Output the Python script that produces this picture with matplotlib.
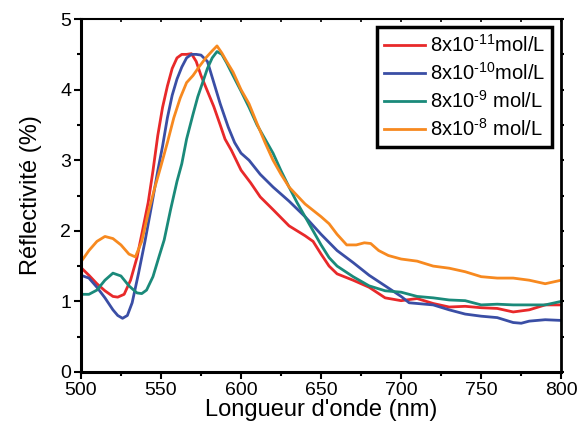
import numpy as np
import matplotlib
matplotlib.use("Agg")
import matplotlib.pyplot as plt
from matplotlib.ticker import MultipleLocator

plt.rcParams['font.family'] = ['Liberation Sans', 'DejaVu Sans']
plt.rcParams['mathtext.default'] = 'regular'

# wavelength grids (nm) and reflectivity (%)
wl_red = [500, 505, 510, 515, 520, 523, 527, 531, 535, 538, 542, 545, 548, 551, 554, 557, 560, 563, 566, 569,
          572, 575, 579, 583, 587, 590, 594, 600, 606, 612, 620, 630, 640, 645, 650, 655, 660, 670, 680,
          690, 700, 710, 720, 730, 740, 750, 760, 770, 780, 790, 800]
r_red = [1.48, 1.37, 1.25, 1.15, 1.07, 1.06, 1.1, 1.3, 1.62, 1.95, 2.4, 2.85, 3.35, 3.75, 4.05, 4.3, 4.45, 4.5, 4.5, 4.51,
         4.4, 4.2, 3.98, 3.76, 3.5, 3.3, 3.14, 2.86, 2.68, 2.48, 2.3, 2.07, 1.93, 1.85, 1.67, 1.5, 1.39, 1.3, 1.2,
         1.05, 1.01, 1.04, 0.97, 0.92, 0.93, 0.91, 0.9, 0.85, 0.88, 0.95, 0.95]

wl_blue = [500, 505, 510, 515, 520, 523, 526, 529, 532, 536, 540, 544, 548, 551, 554, 557, 560, 563, 566, 569,
           572, 575, 579, 583, 587, 592, 596, 600, 605, 612, 620, 630, 640, 650, 660, 670, 680, 690, 700,
           705, 710, 720, 730, 740, 750, 760, 770, 775, 780, 790, 800]
r_blue = [1.37, 1.33, 1.2, 1.05, 0.88, 0.8, 0.76, 0.8, 0.98, 1.4, 1.85, 2.34, 2.85, 3.2, 3.6, 3.92, 4.15, 4.32, 4.45, 4.5,
          4.5, 4.49, 4.4, 4.1, 3.8, 3.47, 3.25, 3.1, 3.0, 2.8, 2.62, 2.42, 2.2, 1.95, 1.72, 1.55, 1.37, 1.22, 1.07,
          0.98, 0.97, 0.95, 0.88, 0.82, 0.79, 0.77, 0.7, 0.69, 0.72, 0.74, 0.73]

wl_teal = [500, 505, 510, 515, 520, 525, 530, 535, 538, 541, 545, 549, 552, 556, 560, 563, 566, 570, 573, 576,
           579, 582, 585, 588, 591, 595, 600, 605, 610, 615, 620, 625, 630, 635, 640, 645, 650, 655, 660,
           670, 680, 690, 700, 710, 720, 730, 740, 750, 760, 770, 780, 790, 800]
r_teal = [1.1, 1.1, 1.16, 1.3, 1.4, 1.36, 1.22, 1.12, 1.11, 1.16, 1.35, 1.65, 1.87, 2.3, 2.7, 2.95, 3.3, 3.65, 3.9, 4.1,
          4.3, 4.45, 4.54, 4.5, 4.38, 4.2, 3.98, 3.75, 3.5, 3.3, 3.1, 2.85, 2.62, 2.4, 2.2, 2.0, 1.8, 1.62, 1.5,
          1.35, 1.22, 1.15, 1.13, 1.07, 1.05, 1.02, 1.01, 0.95, 0.96, 0.95, 0.95, 0.95, 1.0]

wl_orange = [500, 505, 510, 515, 520, 525, 530, 534, 538, 542, 546, 550, 554, 558, 562, 566, 570, 574, 578, 582,
             585, 588, 591, 595, 600, 605, 610, 615, 620, 625, 630, 640, 650, 655, 660, 666, 672, 677, 681,
             686, 692, 700, 710, 720, 730, 740, 750, 760, 770, 780, 790, 800]
r_orange = [1.56, 1.72, 1.85, 1.92, 1.89, 1.8, 1.67, 1.63, 1.85, 2.25, 2.6, 2.92, 3.25, 3.6, 3.88, 4.1, 4.2, 4.33, 4.45, 4.55,
            4.62, 4.52, 4.4, 4.25, 4.0, 3.8, 3.52, 3.25, 3.0, 2.8, 2.62, 2.38, 2.2, 2.1, 1.95, 1.8, 1.8, 1.83, 1.82,
            1.72, 1.65, 1.6, 1.57, 1.5, 1.47, 1.42, 1.35, 1.33, 1.33, 1.3, 1.25, 1.3]

labels = ['8x10$^{\u201011}$mol/L', '8x10$^{\u201010}$mol/L', '8x10$^{\u20109}$ mol/L', '8x10$^{\u20108}$ mol/L']
colors = ['#e8292a', '#3a4ea5', '#1a8a7a', '#f7891f']

fig = plt.figure(figsize=(5.78, 4.34), dpi=100)
ax = fig.add_axes([0.140, 0.143, 0.831, 0.813])

series = [(wl_red, r_red), (wl_blue, r_blue), (wl_teal, r_teal), (wl_orange, r_orange)]
for (x, y), lab, c in zip(series, labels, colors):
    ax.plot(x, y, color=c, lw=2.0, label=lab)

ax.set_xlim(500, 800)
ax.set_ylim(0, 5)
ax.xaxis.set_major_locator(MultipleLocator(50))
ax.xaxis.set_minor_locator(MultipleLocator(25))
ax.yaxis.set_major_locator(MultipleLocator(1))
ax.yaxis.set_minor_locator(MultipleLocator(0.5))
ax.tick_params(which='both', direction='out', width=1.5, labelsize=14, pad=2)
ax.tick_params(which='major', length=5)
ax.tick_params(which='minor', length=3)
ax.spines['left'].set_linewidth(2.2)
ax.spines['bottom'].set_linewidth(2.2)
ax.spines['right'].set_linewidth(2.0)
ax.spines['top'].set_linewidth(1.5)

# small marks on the top and right edges
top = ax.secondary_xaxis('top')
top.xaxis.set_major_locator(MultipleLocator(25))
top.tick_params(direction='in', length=2, width=1.2, labeltop=False)
top.spines['top'].set_visible(False)
right = ax.secondary_yaxis('right')
right.yaxis.set_major_locator(MultipleLocator(0.5))
right.tick_params(direction='out', length=2, width=1.5, labelright=False)
right.spines['right'].set_visible(False)

ax.set_xlabel("Longueur d'onde (nm)", fontsize=17, labelpad=0)
ax.set_ylabel("Réflectivité (%)", fontsize=17, labelpad=13)

leg = ax.legend(loc='upper right', fontsize=14.5, handlelength=2.0, handletextpad=0.25,
                labelspacing=0.3, borderpad=0.35, borderaxespad=0, fancybox=False, framealpha=1,
                bbox_to_anchor=(0.981, 0.977))
leg.get_frame().set_edgecolor('black')
leg.get_frame().set_linewidth(2.5)

fig.savefig("out.png", dpi=100)
